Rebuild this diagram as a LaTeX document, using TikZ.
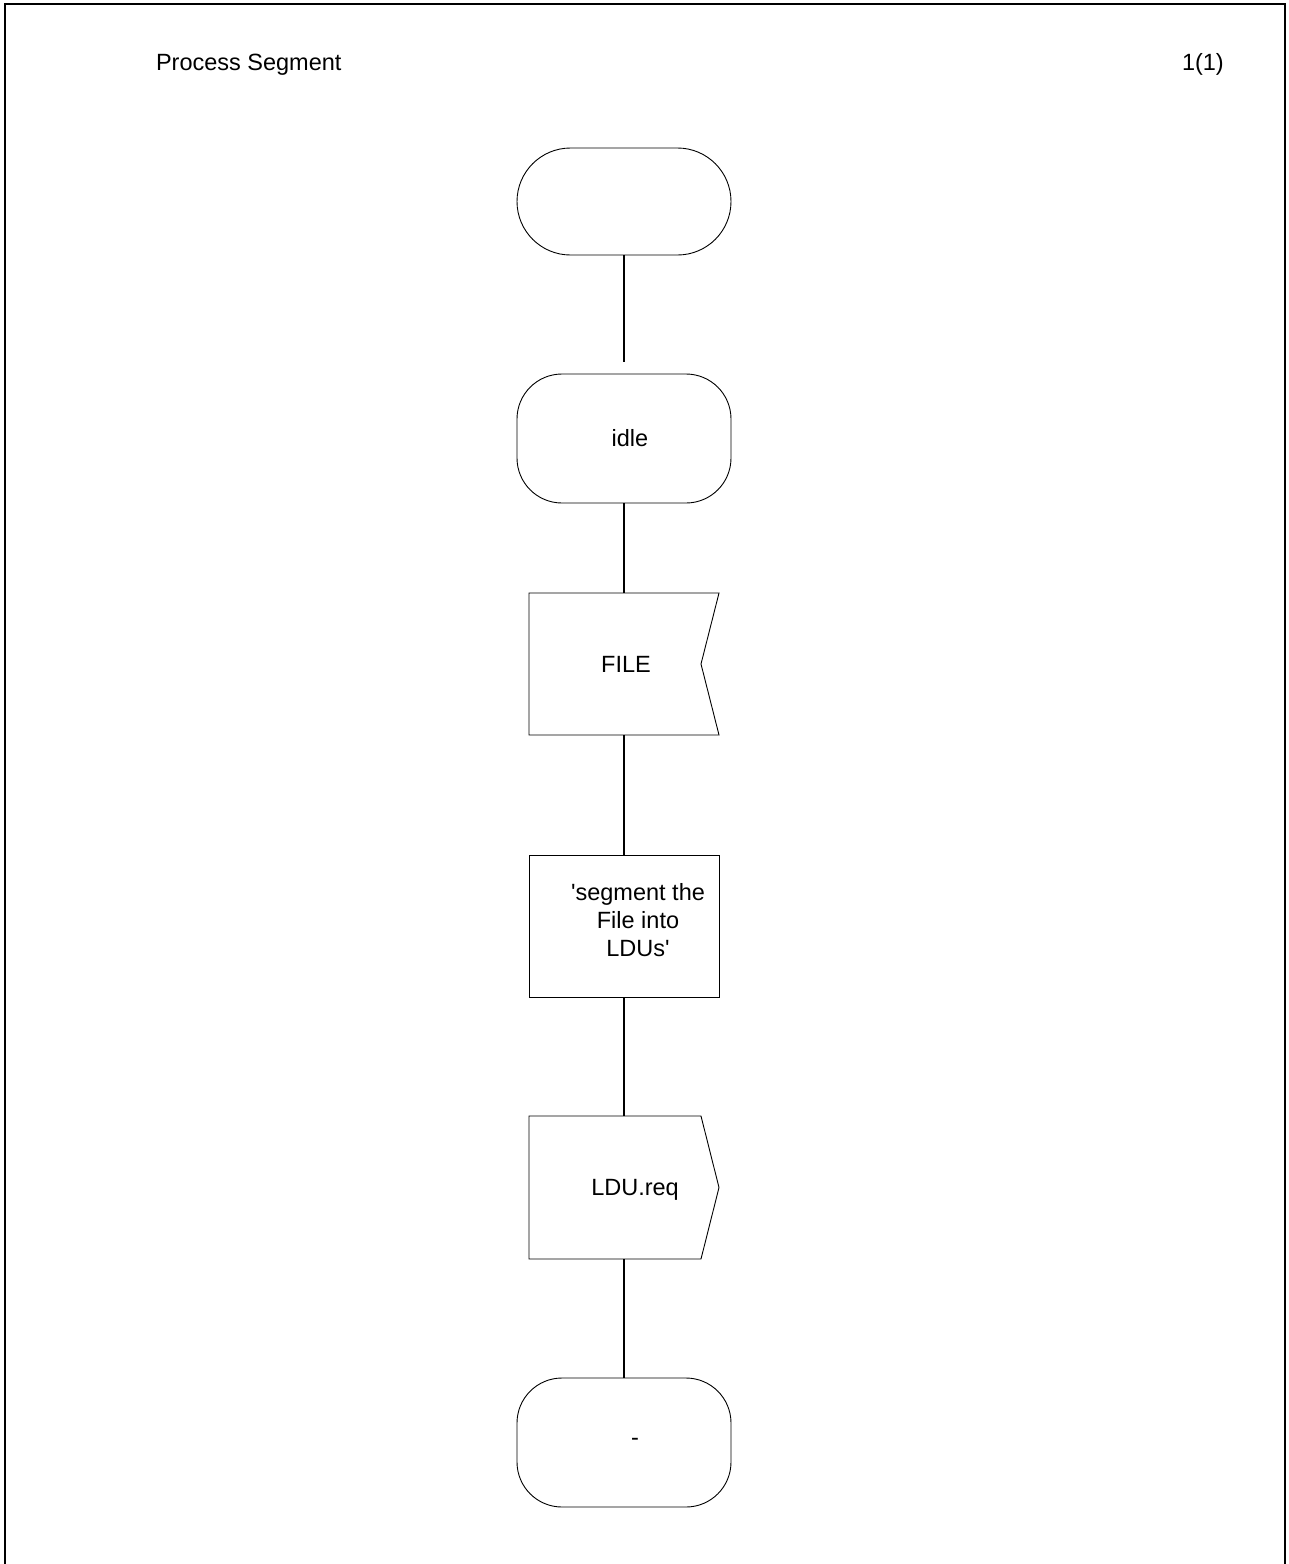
\documentclass[tikz,border=0pt]{standalone}
\usepackage{fontspec}
\setmainfont{Liberation Sans}
\newfontfamily\lsans{Liberation Sans}
\begin{document}
\begin{tikzpicture}[x=1pt,y=-1pt,
  every node/.style={font=\lsans\fontsize{23.5}{28}\selectfont, inner sep=0pt, outer sep=0pt},
  shapeline/.style={draw=black, line width=0.9pt},
  flow/.style={draw=black, line width=1.6pt},
  statebox/.style={shapeline, rectangle, minimum width=214pt, minimum height=129pt, rounded corners=45pt},
  sigbox/.style={rectangle, minimum width=190pt, minimum height=142pt},
]
\useasboundingbox (0,0) rectangle (1289,1564);
\fill[white] (0,0) rectangle (1289,1564);
% frame
\draw[line width=2pt] (5,1566) -- (5,4) -- (1285,4) -- (1285,1566);
% header
\node[anchor=base west] (title) at (156,70.5) {Process Segment};
\node[anchor=base west] (page) at (1182,70.5) {1(1)};
% start
\node[statebox, minimum height=107pt, rounded corners=53.5pt] (start) at (624,201.5) {};
\coordinate (gap) at (624,362);
% idle state
\node[statebox] (idle) at (624,438.5) {};
\node (idletext) at (630,438) {idle};
% input FILE
\node[sigbox] (file) at (624,664) {};
\draw[shapeline] (file.north west) -- (file.north east) -- ([xshift=-18pt]file.east)
  -- (file.south east) -- (file.south west) -- cycle;
\node (filetext) at (626,664) {FILE};
% task
\node[shapeline, rectangle, minimum width=190pt, minimum height=142pt] (task) at (624,926) {};
\node[align=center] (tasktext) at (638,920) {'segment the\\File into\\LDUs'};
% output LDU.req
\node[sigbox, minimum height=143pt] (ldu) at (624,1187.5) {};
\draw[shapeline] (ldu.north west) -- ([xshift=-18pt]ldu.north east) -- (ldu.east)
  -- ([xshift=-18pt]ldu.south east) -- (ldu.south west) -- cycle;
\node (ldutext) at (635,1190) {LDU.req};
% next state
\node[statebox] (dash) at (624,1442.5) {};
\node (dashtext) at (635,1442) {-};
% connectors
\draw[flow] (start.south) -- (gap);
\draw[flow] (idle.south) -- (file.north);
\draw[flow] (file.south) -- (task.north);
\draw[flow] (task.south) -- (ldu.north);
\draw[flow] (ldu.south) -- (dash.north);
\end{tikzpicture}
\end{document}
